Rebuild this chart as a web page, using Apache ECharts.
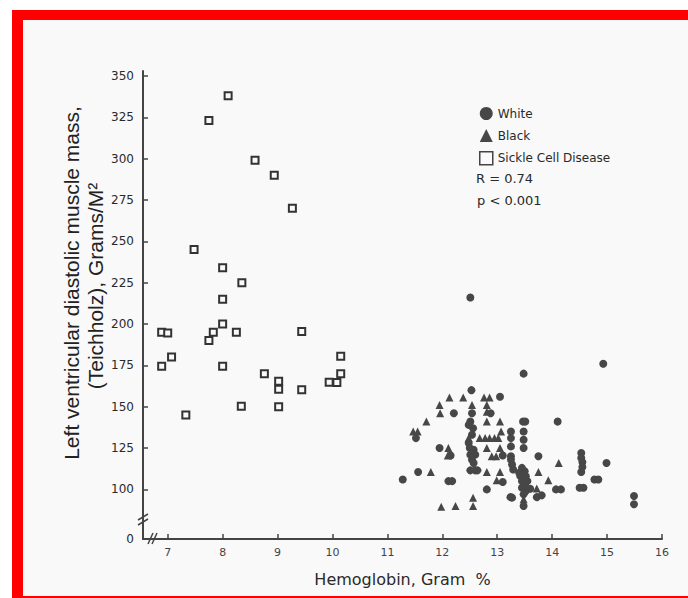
<!DOCTYPE html>
<html>
<head>
<meta charset="utf-8">
<script src="https://cdn.jsdelivr.net/npm/echarts@6/dist/echarts.min.js"></script>
<style>
html,body{margin:0;padding:0;background:#ffffff;width:688px;height:598px;overflow:hidden;}
#frame{position:absolute;left:12px;top:10px;width:676px;height:588px;background:#f9f9f9;
 border-left:11px solid #ff0000;border-top:10px solid #ff0000;border-bottom:2px solid #ff0000;box-sizing:border-box;}
#chart{position:absolute;left:0;top:0;width:688px;height:598px;}
</style>
</head>
<body>
<div id="frame"></div>
<div id="chart"></div>
<script>
// Hemoglobin (g %) vs LV diastolic muscle mass (g/m^2)
const sickleCell = [
  [8.10,338],[7.75,323],[8.59,299],[8.94,290],[9.27,270],[7.48,245],
  [8.00,234],[8.35,225],[8.00,215],[8.00,200],[6.89,195],[7.00,194.6],
  [7.83,195],[7.75,190],[8.25,195],[9.44,195.5],[7.07,180],[6.89,174.5],
  [8.00,174.5],[10.15,180.5],[10.15,170],[8.76,170],[9.02,165.4],[9.02,160.5],
  [9.94,164.8],[10.08,164.6],[9.44,160.3],[8.34,150.2],[9.02,150],[7.33,145]
];
const white = [
  [12.51,216],[13.48,170],[14.93,176],
  [12.53,160],[13.05,156],[12.21,146],[14.10,141],
  [11.52,131],[11.95,125],[11.28,106],[11.56,110.5],[12.11,105],[12.18,105],
  [12.81,100],[13.27,95],[13.48,90],[13.75,120],[14.99,116],
  [15.49,96],[15.49,91],[14.77,106],[14.84,106],[14.50,101],[14.57,101],
  [14.07,100],[14.16,100],
  [14.53,122],[14.53,119],[14.55,116.5],[14.55,113.5],[14.53,110.5],
  [13.47,141],[13.51,141],[13.48,135],[13.48,130],[13.48,125],
  [13.25,135],[13.25,131],[13.25,126],[13.25,120],[13.25,118],[13.27,115],[13.29,112],
  [13.45,113],[13.50,111],[13.42,108],[13.52,108],[13.45,105],[13.50,103],[13.45,101],
  [13.52,99],[13.48,97],[13.40,110],[13.55,105],
  [12.54,146],[12.51,141],[12.48,139],[12.56,137],[12.54,133],[12.50,125],[12.57,124],
  [12.51,121],[12.60,121],[12.54,118],[12.57,116],[12.48,128],[12.55,122],
  [12.51,111.5],[12.60,111.5],[12.64,111.5],
  [13.24,95.3],[13.72,95.3],[13.81,96.4],[13.54,100.4],[13.60,100.4],
  [13.10,120.5],[12.15,120.5],[12.88,146],[13.10,104.5]
];
const black = [
  [12.13,155.5],[12.38,155.5],[12.76,155.5],[12.86,155.5],
  [11.95,151],[11.96,146],[12.54,151],[12.81,151],
  [12.81,147],
  [11.71,141],[12.81,141],[13.05,141],
  [11.47,135],[11.55,135],[13.07,135],
  [12.48,131],[12.68,131],[12.78,131],[12.86,131],[12.95,131],[13.02,131],
  [12.11,125],[12.81,125],[13.05,125],
  [12.10,120.5],[12.90,120],[12.98,120],
  [11.79,110.5],[12.81,110.5],[13.05,110.5],
  [14.12,116],[13.93,105.5],[12.99,105.5],[13.75,110.5],
  [12.56,95],[12.56,90],[12.24,90],[11.98,89.5],[13.72,100.5],[13.48,94]
];
const xTicks = [7,8,9,10,11,12,13,14,15,16];
const yTicks = [100,125,150,175,200,225,250,275,300,325,350];
const yZeroAt = 70; // broken-axis origin labelled "0"

const FONT = 'DejaVu Sans';
const TITLE_FONT = 'Liberation Sans';
const chart = echarts.init(document.getElementById('chart'), null, {renderer:'svg'});
chart.setOption({
  backgroundColor: 'transparent',
  animation: false,
  textStyle: {fontFamily: FONT},
  grid: {left:143, right:26, top:71, bottom:59, containLabel:false},
  xAxis: {
    type:'value', min:6.55, max:16,
    name:'Hemoglobin, Gram  %', nameLocation:'middle', nameGap:32,
    nameTextStyle:{fontSize:16, color:'#2a2a2a', fontFamily:FONT},
    axisLine:{show:true, lineStyle:{color:'#444', width:2}},
    axisTick:{show:true, inside:true, length:5, customValues:xTicks, lineStyle:{color:'#444', width:1.5}},
    axisLabel:{customValues:xTicks, fontSize:11, color:'#444', margin:8},
    splitLine:{show:false}
  },
  yAxis: {
    type:'value', min:yZeroAt, max:353,
    axisLine:{show:true, onZero:false, lineStyle:{color:'#444', width:2}},
    axisTick:{show:true, inside:true, length:5, customValues:yTicks, lineStyle:{color:'#444', width:1.5}},
    axisLabel:{customValues:[yZeroAt].concat(yTicks), fontSize:12, color:'#2a2a2a', margin:9,
      formatter: v => (v === yZeroAt ? '0' : String(v))},
    splitLine:{show:false}
  },
  legend: {
    orient:'vertical', left:474, top:102, itemGap:9, itemWidth:13, itemHeight:13,
    textStyle:{fontSize:12, color:'#2a2a2a', fontFamily:FONT},
    data:[
      {name:'White', icon:'circle'},
      {name:'Black', icon:'triangle'},
      {name:'Sickle Cell Disease', icon:'rect', itemStyle:{color:'#fafafa', borderColor:'#444', borderWidth:1.5}}
    ]
  },
  series: [
    {name:'White', type:'scatter', symbol:'circle', symbolSize:8, data:white,
     itemStyle:{color:'#474747', opacity:1}},
    {name:'Black', type:'scatter', symbol:'triangle', symbolSize:8, data:black,
     itemStyle:{color:'#474747', opacity:1}},
    {name:'Sickle Cell Disease', type:'scatter', symbol:'rect', symbolSize:7, data:sickleCell,
     itemStyle:{color:'#fafafa', borderColor:'#333', borderWidth:2, opacity:1}}
  ],
  graphic: [
    {type:'text', left:476, top:172, style:{text:'R = 0.74', fontSize:13, fill:'#2a2a2a', fontFamily:FONT}},
    {type:'text', left:477, top:194, style:{text:'p < 0.001', fontSize:13, fill:'#2a2a2a', fontFamily:FONT}},
    {type:'text', x:71, y:283, rotation:Math.PI/2,
     style:{text:'Left ventricular diastolic muscle mass,', fontSize:21, fill:'#222', fontFamily:TITLE_FONT, align:'center', verticalAlign:'middle'}},
    {type:'text', x:95, y:286, rotation:Math.PI/2,
     style:{text:'(Teichholz), Grams/M²', fontSize:21, fill:'#222', fontFamily:TITLE_FONT, align:'center', verticalAlign:'middle'}},
    // axis break marks
    {type:'line', shape:{x1:138, y1:520, x2:148, y2:514}, style:{stroke:'#444', lineWidth:1.5}},
    {type:'line', shape:{x1:138, y1:525, x2:148, y2:519}, style:{stroke:'#444', lineWidth:1.5}},
    {type:'line', shape:{x1:148, y1:544, x2:153, y2:533}, style:{stroke:'#444', lineWidth:1.5}},
    {type:'line', shape:{x1:152, y1:544, x2:157, y2:533}, style:{stroke:'#444', lineWidth:1.5}}
  ]
});
</script>
</body>
</html>
